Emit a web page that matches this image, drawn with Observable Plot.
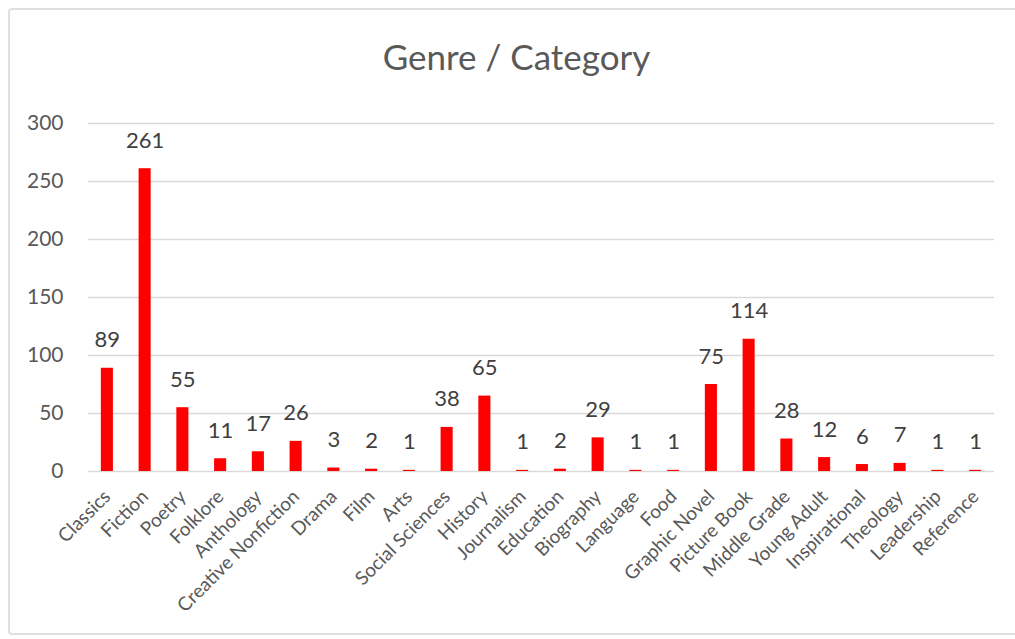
<!DOCTYPE html>
<html>
<head>
<meta charset="utf-8">
<script src="https://cdn.jsdelivr.net/npm/d3@7"></script>
<script src="https://cdn.jsdelivr.net/npm/@observablehq/plot@0.6"></script>
<style>
  html, body { margin: 0; padding: 0; background: #fff; }
  #wrap { position: relative; width: 1015px; height: 639px; overflow: hidden; font-family: Lato, "Open Sans", sans-serif; }
  #frame { position: absolute; left: 8px; top: 8px; width: 1020px; height: 627px; border: 2px solid #e0e0e0; border-radius: 4px; box-sizing: border-box; }
  #title { position: absolute; left: 0; top: 0; width: 1015px; height: 100px; text-align: center; padding-left: 18px; box-sizing: border-box; line-height: 113px; font-size: 35px; color: #595959; }
  #chart { position: absolute; left: 0; top: 100px; }
</style>
</head>
<body>
<div id="wrap">
  <div id="frame"></div>
  <div id="title">Genre / Category</div>
  <div id="chart"></div>
</div>
<script>
const genres = ["Classics","Fiction","Poetry","Folklore","Anthology","Creative Nonfiction","Drama","Film","Arts","Social Sciences","History","Journalism","Education","Biography","Language","Food","Graphic Novel","Picture Book","Middle Grade","Young Adult","Inspirational","Theology","Leadership","Reference"];
const counts = [89,261,55,11,17,26,3,2,1,38,65,1,2,29,1,1,75,114,28,12,6,7,1,1];
const yTicks = [0,50,100,150,200,250,300];

const data = genres.map((g, i) => ({genre: g, count: counts[i]}));

const plot = Plot.plot({
  width: 1015,
  height: 539,
  marginTop: 23,
  marginBottom: 168,
  marginLeft: 88,
  marginRight: 21,
  style: {fontFamily: 'Lato, "Open Sans", sans-serif', color: "#595959", background: "transparent"},
  x: {domain: genres, paddingInner: 0.68, paddingOuter: 0.34, round: false, label: null},
  y: {domain: [0, 300], ticks: yTicks, label: null},
  marks: [
    Plot.gridY(yTicks, {stroke: "#d9d9d9", strokeOpacity: 1, strokeWidth: 1.5}),
    Plot.axisY(yTicks, {tickSize: 0, tickPadding: 25, fontSize: 21, label: null, fill: "#595959"}),
    Plot.axisX({tickSize: 0, tickPadding: 22, tickRotate: -45, fontSize: 19, label: null, fill: "#595959"}),
    Plot.barY(data, {x: "genre", y: "count", fill: "#ff0000"}),
    Plot.text(data, {x: "genre", y: "count", text: d => String(d.count), lineAnchor: "bottom", dy: -21, fontSize: 22, fill: "#404040"})
  ]
});
document.getElementById("chart").appendChild(plot);
</script>
</body>
</html>
